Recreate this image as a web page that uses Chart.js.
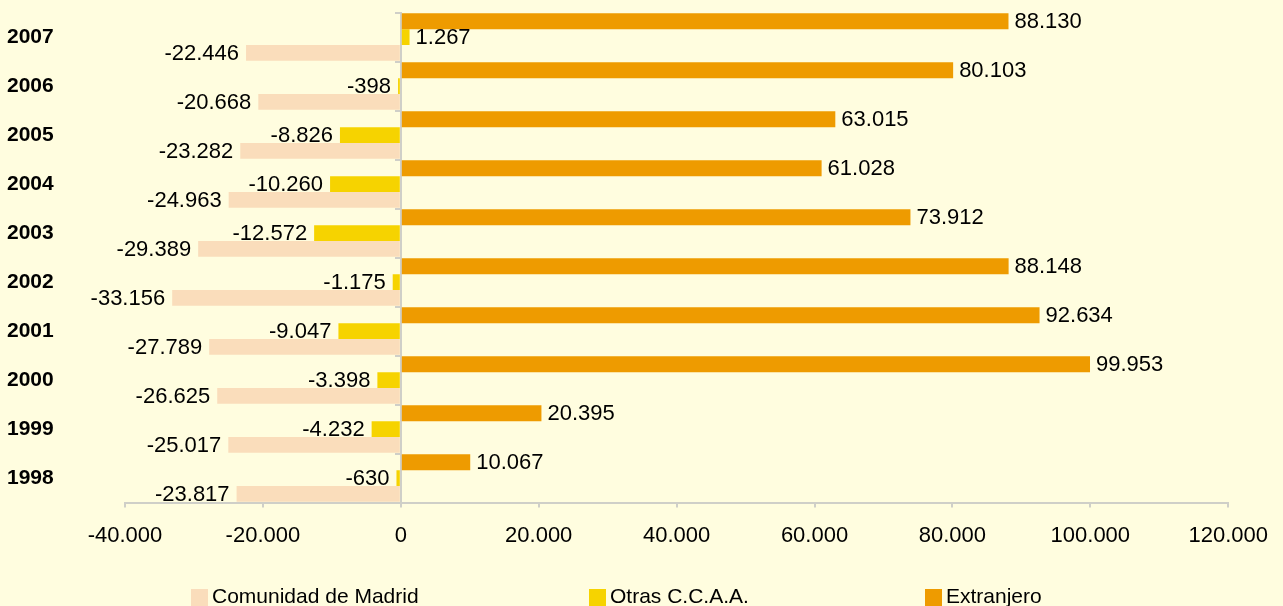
<!DOCTYPE html>
<html>
<head>
<meta charset="utf-8">
<script src="https://cdn.jsdelivr.net/npm/chart.js@4.4.1/dist/chart.umd.min.js"></script>
<style>
html,body{margin:0;padding:0;background:#FFFDDF;}
canvas{display:block;}
</style>
</head>
<body>
<canvas id="c" width="1283" height="606"></canvas>
<script>
// Years, top to bottom as drawn
const years = ['2007','2006','2005','2004','2003','2002','2001','2000','1999','1998'];
const comunidadMadrid = [-22446,-20668,-23282,-24963,-29389,-33156,-27789,-26625,-25017,-23817];
const otrasCCAA       = [1267,-398,-8826,-10260,-12572,-1175,-9047,-3398,-4232,-630];
const extranjero      = [88130,80103,63015,61028,73912,88148,92634,99953,20395,10067];
const xMin = -40000, xMax = 120000, xStep = 20000;

const FONT = '"Liberation Sans", Arial, sans-serif';
const AXIS = '#CFCFC8';

function fmt(v){
  const s = Math.abs(Math.round(v)).toString().replace(/\B(?=(\d{3})+(?!\d))/g,'.');
  return (v < 0 ? '-' : '') + s;
}

const valueLabels = {
  id:'valueLabels',
  afterDatasetsDraw(chart){
    const ctx = chart.ctx;
    ctx.save();
    ctx.font = '22px ' + FONT;
    ctx.fillStyle = '#000';
    ctx.textBaseline = 'middle';
    chart.data.datasets.forEach((ds,i)=>{
      const meta = chart.getDatasetMeta(i);
      meta.data.forEach((el,j)=>{
        const v = ds.data[j];
        const t = fmt(v);
        if (v >= 0){ ctx.textAlign='left'; ctx.fillText(t, el.x + 6, el.y + 1); }
        else { ctx.textAlign='right'; ctx.fillText(t, el.x - 7, el.y + 1); }
      });
    });
    ctx.restore();
  }
};

const customLegend = {
  id:'customLegend',
  afterDraw(chart){
    const ctx = chart.ctx;
    const order = [2,1,0];
    const xs = [191, 589, 925];
    ctx.save();
    ctx.font = '21px ' + FONT;
    ctx.textBaseline = 'alphabetic';
    ctx.textAlign = 'left';
    order.forEach((di,k)=>{
      const ds = chart.data.datasets[di];
      ctx.fillStyle = ds.backgroundColor;
      ctx.fillRect(xs[k], 589, 17, 17);
      ctx.fillStyle = '#000';
      ctx.fillText(ds.label, xs[k] + 21, 603);
    });
    ctx.restore();
  }
};

new Chart(document.getElementById('c'), {
  type:'bar',
  data:{
    labels: years,
    datasets:[
      {label:'Extranjero', data: extranjero, backgroundColor:'#EE9B00'},
      {label:'Otras C.C.A.A.', data: otrasCCAA, backgroundColor:'#F6D300'},
      {label:'Comunidad de Madrid', data: comunidadMadrid, backgroundColor:'#FADDBB'}
    ]
  },
  options:{
    indexAxis:'y',
    responsive:false,
    animation:false,
    datasets:{bar:{categoryPercentage:0.97, barPercentage:1.0, borderWidth:0}},
    layout:{padding:{top:9, right:54, left:7, bottom:42}},
    plugins:{legend:{display:false}, tooltip:{enabled:false}},
    scales:{
      x:{
        type:'linear', min:xMin, max:xMax,
        ticks:{stepSize:xStep, color:'#000', font:{family:FONT, size:22}, padding:15, callback:(v)=>fmt(v), maxRotation:0},
        grid:{drawOnChartArea:false, tickLength:5, color:AXIS, lineWidth:2},
        border:{color:AXIS, width:2}
      },
      y:{
        type:'category', position:{x:0},
        ticks:{display:false},
        grid:{drawOnChartArea:false, tickLength:5, color:AXIS, lineWidth:2, offset:true},
        border:{color:AXIS, width:2}
      },
      yl:{
        type:'category', position:'left',
        grid:{display:false}, border:{display:false},
        ticks:{color:'#000', font:{family:FONT, size:21, weight:'bold'}, crossAlign:'far', padding:0},
        afterFit(s){ s.width = 118; }
      }
    }
  },
  plugins:[valueLabels, customLegend]
});
</script>
</body>
</html>
